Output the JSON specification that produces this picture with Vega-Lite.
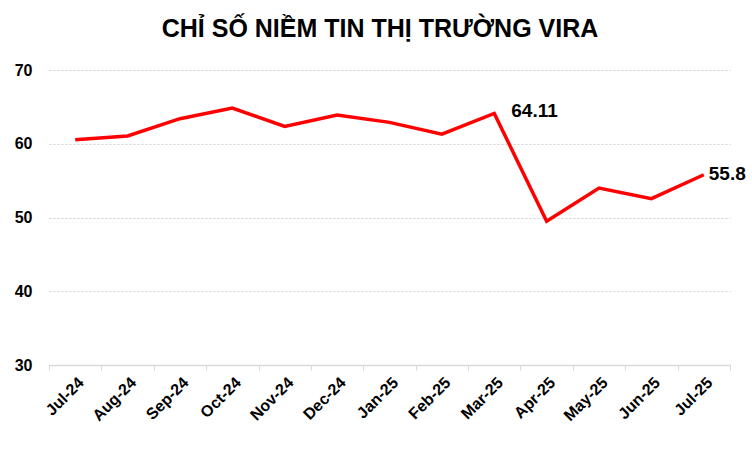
{
  "$schema": "https://vega.github.io/schema/vega-lite/v6.json",
  "width": 752,
  "height": 452,
  "autosize": {"type": "fit", "contains": "padding"},
  "padding": {"left": 14, "right": 8, "top": 17, "bottom": 28},
  "background": "white",
  "title": {
    "text": "CHỈ SỐ NIỀM TIN THỊ TRƯỜNG VIRA",
    "font": "Liberation Sans",
    "fontSize": 25,
    "fontWeight": "bold",
    "color": "#000000",
    "anchor": "middle",
    "frame": "bounds",
    "offset": 20
  },
  "data": {
    "values": [
      {"month": "Jul-24", "value": 60.55},
      {"month": "Aug-24", "value": 61.05},
      {"month": "Sep-24", "value": 63.4},
      {"month": "Oct-24", "value": 64.85},
      {"month": "Nov-24", "value": 62.35},
      {"month": "Dec-24", "value": 63.9},
      {"month": "Jan-25", "value": 62.9},
      {"month": "Feb-25", "value": 61.3},
      {"month": "Mar-25", "value": 64.11, "label": "64.11"},
      {"month": "Apr-25", "value": 49.5},
      {"month": "May-25", "value": 54.0},
      {"month": "Jun-25", "value": 52.55},
      {"month": "Jul-25", "value": 55.8, "label": "55.8"}
    ]
  },
  "encoding": {
    "x": {
      "field": "month",
      "type": "nominal",
      "sort": null,
      "scale": {"type": "band", "paddingInner": 0, "paddingOuter": 0},
      "axis": {
        "title": null,
        "labelAngle": -45,
        "labelFont": "Liberation Sans",
        "labelFontSize": 16,
        "labelFontWeight": "bold",
        "labelColor": "#000000",
        "labelPadding": 4,
        "tickBand": "extent",
        "tickSize": 5,
        "tickColor": "#D9D9D9",
        "domainColor": "#D9D9D9",
        "domainWidth": 1.5,
        "grid": false
      }
    },
    "y": {
      "field": "value",
      "type": "quantitative",
      "scale": {"domain": [30, 70], "nice": false, "zero": false},
      "axis": {
        "title": null,
        "values": [30, 40, 50, 60, 70],
        "labelFont": "Liberation Sans",
        "labelFontSize": 16,
        "labelFontWeight": "bold",
        "labelColor": "#000000",
        "labelPadding": 17,
        "ticks": false,
        "domain": false,
        "grid": true,
        "gridColor": "#D0D0D0",
        "gridDash": [2, 2],
        "gridWidth": 1
      }
    }
  },
  "layer": [
    {
      "mark": {"type": "line", "color": "#FF0000", "strokeWidth": 3.5, "strokeJoin": "miter"}
    },
    {
      "transform": [{"filter": "datum.month === 'Mar-25'"}],
      "mark": {"type": "text", "align": "left", "baseline": "middle", "dx": 17, "dy": -2, "font": "Liberation Sans", "fontSize": 19, "fontWeight": "bold", "color": "#000000"},
      "encoding": {"text": {"field": "label"}}
    },
    {
      "transform": [{"filter": "datum.month === 'Jul-25'"}],
      "mark": {"type": "text", "align": "left", "baseline": "middle", "dx": 5, "dy": -1, "font": "Liberation Sans", "fontSize": 19, "fontWeight": "bold", "color": "#000000"},
      "encoding": {"text": {"field": "label"}}
    }
  ],
  "config": {"view": {"stroke": null}}
}
